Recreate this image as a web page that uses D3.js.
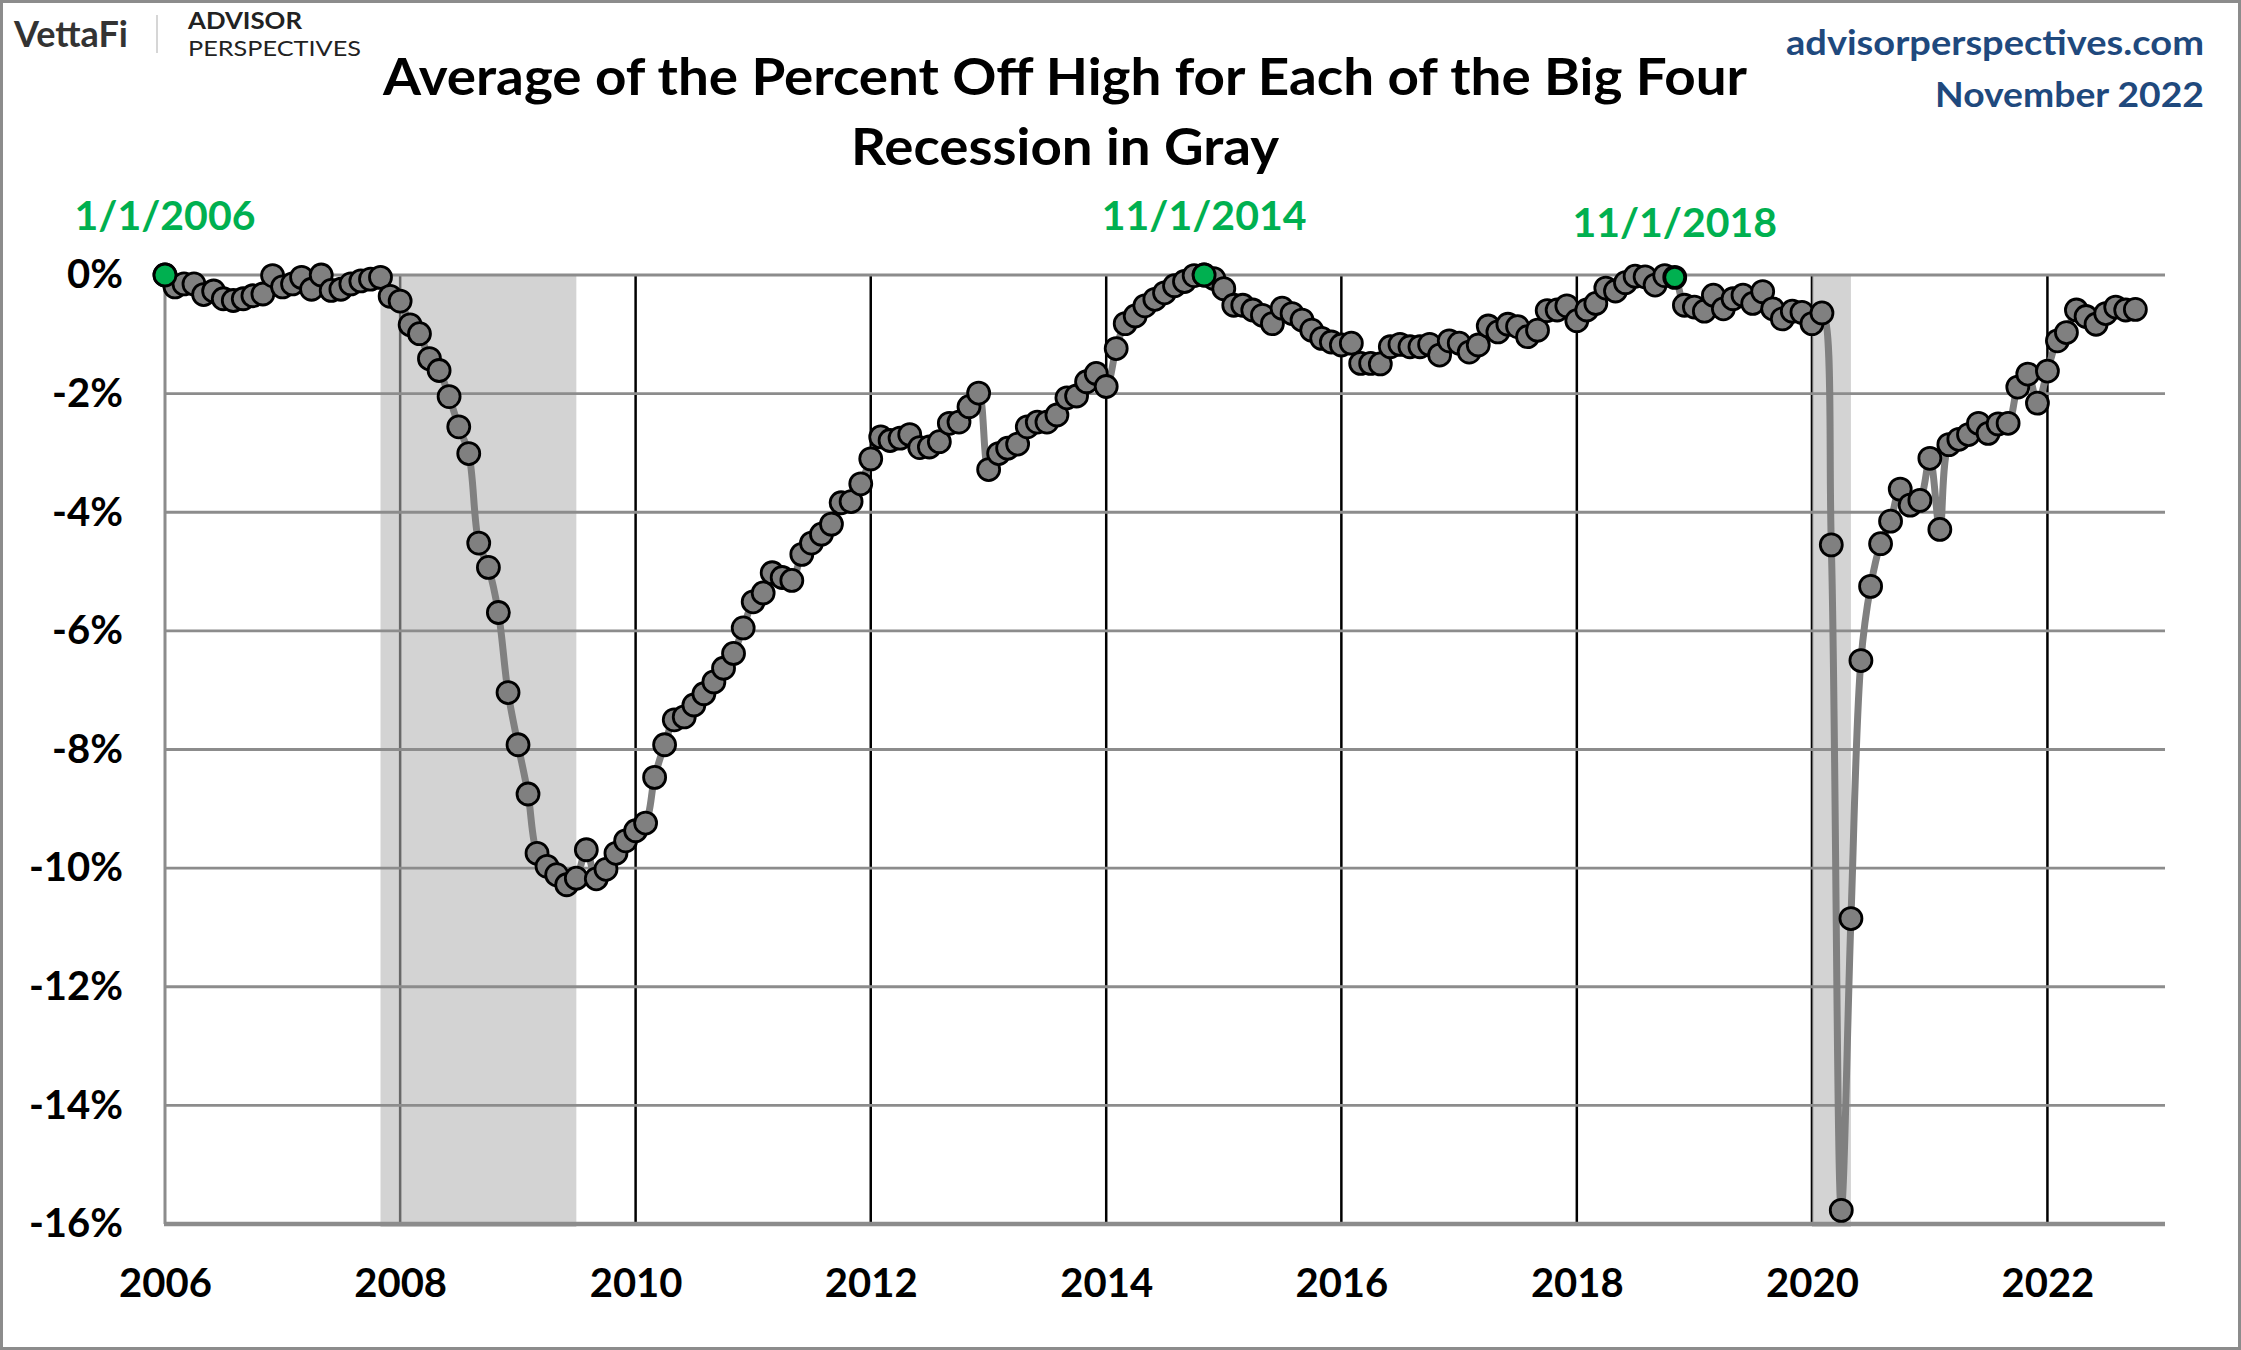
<!DOCTYPE html>
<html><head><meta charset="utf-8">
<script src="https://cdn.jsdelivr.net/npm/d3@7"></script>
<style>html,body{margin:0;padding:0;background:#fff;} svg{display:block;}</style>
</head><body>
<svg id="chart" width="2241" height="1350"></svg>
<script>
// ---------------- DATA ----------------
const startMonth = "2006-01-01";   // first monthly observation
const values = [
  0.00,-0.20,-0.15,-0.15,-0.33,-0.27,-0.40,-0.43,-0.40,-0.35,-0.32,-0.01,
  -0.20,-0.15,-0.04,-0.24,0.00,-0.26,-0.24,-0.15,-0.10,-0.07,-0.04,-0.36,
  -0.44,-0.84,-0.99,-1.41,-1.61,-2.05,-2.56,-3.01,-4.52,-4.93,-5.69,-7.04,
  -7.92,-8.75,-9.75,-9.97,-10.11,-10.28,-10.17,-9.69,-10.18,-10.02,-9.75,-9.54,
  -9.37,-9.24,-8.47,-7.92,-7.50,-7.45,-7.25,-7.06,-6.86,-6.63,-6.38,-5.95,
  -5.51,-5.36,-5.02,-5.10,-5.15,-4.71,-4.52,-4.37,-4.20,-3.84,-3.82,-3.52,
  -3.10,-2.73,-2.79,-2.75,-2.69,-2.91,-2.90,-2.81,-2.50,-2.48,-2.22,-1.99,
  -3.28,-3.01,-2.92,-2.85,-2.56,-2.48,-2.48,-2.36,-2.07,-2.04,-1.80,-1.66,
  -1.88,-1.24,-0.82,-0.69,-0.52,-0.41,-0.30,-0.18,-0.11,-0.01,0.00,-0.06,
  -0.23,-0.51,-0.51,-0.59,-0.68,-0.82,-0.56,-0.65,-0.76,-0.93,-1.07,-1.13,
  -1.18,-1.15,-1.49,-1.49,-1.50,-1.21,-1.17,-1.21,-1.21,-1.17,-1.35,-1.11,
  -1.15,-1.30,-1.18,-0.86,-0.96,-0.83,-0.87,-1.04,-0.93,-0.60,-0.59,-0.52,
  -0.77,-0.59,-0.48,-0.22,-0.27,-0.13,-0.02,-0.03,-0.17,-0.01,-0.04,-0.51,
  -0.54,-0.61,-0.34,-0.57,-0.40,-0.34,-0.48,-0.28,-0.57,-0.74,-0.61,-0.63,
  -0.82,-0.64,-4.55,-15.77,-10.85,-6.50,-5.25,-4.53,-4.15,-3.61,-3.88,-3.80,
  -3.09,-4.29,-2.86,-2.77,-2.69,-2.50,-2.67,-2.51,-2.50,-1.89,-1.67,-2.16,
  -1.62,-1.11,-0.97,-0.59,-0.70,-0.83,-0.65,-0.54,-0.59,-0.58
];
const highlightDates  = ["2006-01-01","2014-11-01","2018-11-01"];
const highlightLabels = ["1/1/2006","11/1/2014","11/1/2018"];
const recessionStarts = ["2007-11-01","2020-01-01"];
const recessionEnds   = ["2009-07-01","2020-05-01"];
const yTicks      = [0,-2,-4,-6,-8,-10,-12,-14,-16];
const yTickLabels = ["0%","-2%","-4%","-6%","-8%","-10%","-12%","-14%","-16%"];
const xTickYears  = [2006,2008,2010,2012,2014,2016,2018,2020,2022];
const xDomain     = ["2006-01-01","2023-01-01"];
const titleLines  = ["Average of the Percent Off High for Each of the Big Four","Recession in Gray"];
const siteLines   = ["advisorperspectives.com","November 2022"];

// ---------------- CHART ----------------
const parse = d3.timeParse("%Y-%m-%d");
const t0 = parse(startMonth);
const data = values.map((v,i)=>({date:d3.timeMonth.offset(t0,i), v}));

const W=2241,H=1350;
const L=165,R=2165,T=275,B=1224;
const FONT="Lato, 'Open Sans', 'DejaVu Sans', sans-serif";
const svg=d3.select("#chart");

svg.append("rect").attr("x",1.5).attr("y",1.5).attr("width",W-3).attr("height",H-3)
  .attr("fill","#fff").attr("stroke","#8c8c8c").attr("stroke-width",3);

const x=d3.scaleTime().domain(xDomain.map(parse)).range([L,R]);
const y=d3.scaleLinear().domain([-16,0]).range([B,T]);

const plot=svg.append("g");

// vertical year lines (under shading)
plot.selectAll("line.vy").data(xTickYears.slice(1)).enter().append("line")
  .attr("class","vy")
  .attr("x1",d=>x(new Date(d,0,1))).attr("x2",d=>x(new Date(d,0,1)))
  .attr("y1",y(0)).attr("y2",y(-16))
  .attr("stroke","#000").attr("stroke-width",2.5);

// recession shading
plot.selectAll("rect.rec").data(recessionStarts).enter().append("rect")
  .attr("class","rec")
  .attr("x",d=>x(parse(d)))
  .attr("width",(d,i)=>x(parse(recessionEnds[i]))-x(parse(d)))
  .attr("y",y(0)).attr("height",y(-16)-y(0)+3)
  .attr("fill","#b4b4b4").attr("fill-opacity",0.58);

// horizontal gridlines
plot.selectAll("line.hg").data(yTicks.filter(d=>d>-16)).enter().append("line")
  .attr("class","hg")
  .attr("x1",L).attr("x2",R).attr("y1",d=>y(d)).attr("y2",d=>y(d))
  .attr("stroke","#8c8c8c").attr("stroke-width",2.8);

// y axis line and x axis line
plot.append("line").attr("x1",L).attr("x2",L).attr("y1",y(0)).attr("y2",y(-16))
  .attr("stroke","#8c8c8c").attr("stroke-width",3);
plot.append("line").attr("x1",L-1).attr("x2",R).attr("y1",y(-16)).attr("y2",y(-16))
  .attr("stroke","#8c8c8c").attr("stroke-width",4.5);

// axes (labels)
const yAxis=d3.axisLeft(y).tickValues(yTicks).tickFormat((d,i)=>yTickLabels[i]).tickSize(0).tickPadding(42);
const gy=svg.append("g").attr("transform",`translate(${L},0)`).call(yAxis);
gy.select(".domain").remove();
gy.selectAll("text").attr("font-family",FONT).attr("font-weight",700).attr("font-size",40).attr("fill","#000");

const xAxis=d3.axisBottom(x).tickValues(xTickYears.map(d=>new Date(d,0,1))).tickFormat(d3.timeFormat("%Y")).tickSize(0).tickPadding(45);
const gx=svg.append("g").attr("transform",`translate(0,${B})`).call(xAxis);
gx.select(".domain").remove();
gx.selectAll("text").attr("font-family",FONT).attr("font-weight",700).attr("font-size",40).attr("fill","#000");

// line
const line=d3.line().x(d=>x(d.date)).y(d=>y(d.v)).curve(d3.curveCatmullRom.alpha(0.5));
plot.append("path").datum(data).attr("d",line).attr("fill","none")
  .attr("stroke","#808080").attr("stroke-width",7).attr("stroke-linejoin","round");

// markers
plot.selectAll("circle.pt").data(data).enter().append("circle")
  .attr("class","pt").attr("cx",d=>x(d.date)).attr("cy",d=>y(d.v)).attr("r",11)
  .attr("fill","#808080").attr("stroke","#000").attr("stroke-width",2.8);

// highlight markers
const hl=highlightDates.map((s,i)=>{const t=parse(s).getTime();const d=data.find(p=>p.date.getTime()===t);return {d,label:highlightLabels[i],i};});
plot.selectAll("circle.hl").data(hl).enter().append("circle")
  .attr("class","hl").attr("cx",h=>x(h.d.date)).attr("cy",h=>y(h.d.v))
  .attr("r",h=>h.i===2?9.5:11)
  .attr("fill","#00b050").attr("stroke","#000").attr("stroke-width",h=>h.i===2?1.8:2.8);

const labelDy=[-45,-45,-40];
svg.selectAll("text.hlt").data(hl).enter().append("text")
  .attr("class","hlt").attr("x",h=>x(h.d.date)).attr("y",(h)=>y(h.d.v)+labelDy[h.i])
  .attr("text-anchor","middle").attr("font-family",FONT).attr("font-weight",700)
  .attr("font-size",41).attr("fill","#00b050").text(h=>h.label);

// title
svg.selectAll("text.title").data(titleLines).enter().append("text")
  .attr("class","title").attr("x",1065).attr("y",(d,i)=>95+i*70)
  .attr("text-anchor","middle").attr("font-family",FONT).attr("font-weight",700)
  .attr("font-size",51).attr("fill","#000")
  .attr("textLength",(d,i)=>i===0?1364:428).attr("lengthAdjust","spacingAndGlyphs")
  .text(d=>d);

// site text
svg.selectAll("text.site").data(siteLines).enter().append("text")
  .attr("class","site").attr("x",2204).attr("y",(d,i)=>55+i*52)
  .attr("text-anchor","end").attr("font-family",FONT).attr("font-weight",700)
  .attr("font-size",34).attr("fill","#1f497d")
  .attr("textLength",(d,i)=>i===0?418:269).attr("lengthAdjust","spacingAndGlyphs")
  .text(d=>d);

// logo
const logo=svg.append("g");
logo.append("text").attr("x",14).attr("y",47).attr("font-family",FONT).attr("font-weight",700)
  .attr("font-size",36).attr("fill","#333").attr("textLength",114).attr("lengthAdjust","spacingAndGlyphs").text("VettaFi");
logo.append("line").attr("x1",157).attr("x2",157).attr("y1",15).attr("y2",53).attr("stroke","#c8c8c8").attr("stroke-width",1.5);
logo.append("text").attr("x",188).attr("y",29).attr("font-family",FONT).attr("font-weight",700)
  .attr("font-size",22).attr("fill","#222").attr("textLength",114).attr("lengthAdjust","spacingAndGlyphs").text("ADVISOR");
logo.append("text").attr("x",188).attr("y",56).attr("font-family",FONT).attr("font-weight",400)
  .attr("font-size",22).attr("fill","#222").attr("textLength",173).attr("lengthAdjust","spacingAndGlyphs").text("PERSPECTIVES");
</script>
</body></html>
